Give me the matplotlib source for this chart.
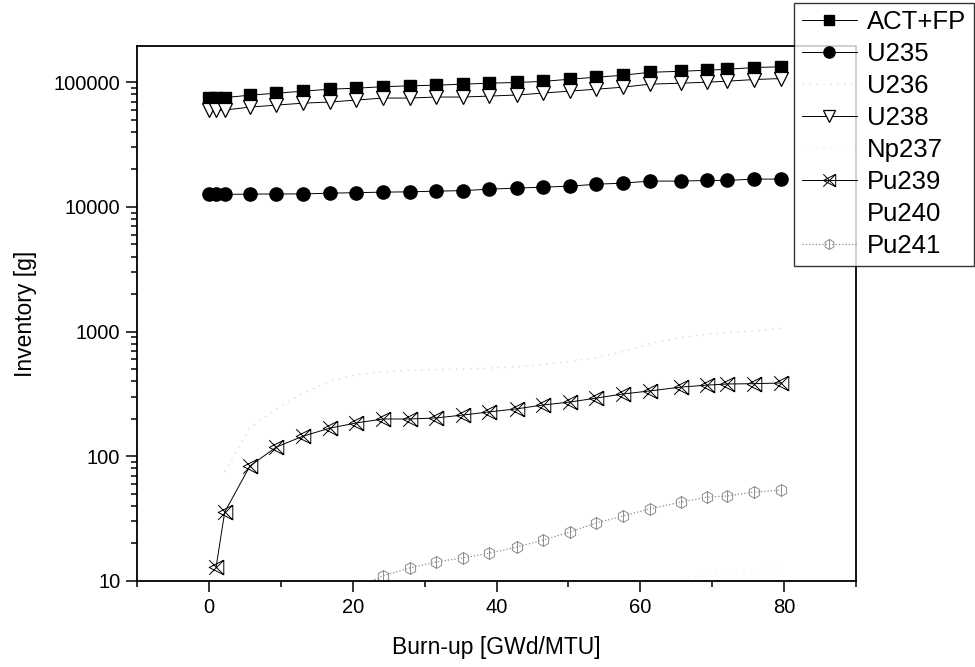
import numpy as np
import matplotlib
matplotlib.use('Agg')
import matplotlib.pyplot as plt
from matplotlib.path import Path
from matplotlib.ticker import FuncFormatter, LogLocator

plt.rcParams['font.family'] = ['Liberation Sans', 'DejaVu Sans']

nan = np.nan
burnup = [0, 1.0, 2.2, 5.7, 9.4, 13.1, 16.8, 20.5, 24.2, 27.9, 31.6, 35.3,
          39.0, 42.8, 46.5, 50.2, 53.9, 57.6, 61.3, 65.7, 69.3, 72.1, 75.8, 79.6]

act_fp = [74500, 74800, 75200, 78700, 81600, 84700, 87900, 89500, 92000, 93500,
          94600, 96400, 98200, 99500, 101500, 105700, 109600, 113700, 120000,
          122400, 124700, 127000, 131000, 133000]
u235 = [12650, 12600, 12600, 12650, 12700, 12700, 12880, 13000, 13130, 13200,
        13370, 13500, 13870, 14140, 14400, 14660, 15200, 15500, 16100, 16100,
        16300, 16300, 16700, 16700]
u236 = [nan, nan, 75, 170, 240, 320, 400, 450, 475, 490, 495, 500, 510, 520,
        545, 575, 620, 690, 800, 900, 950, 980, 1010, 1060]
u238 = [59700, 59500, 59800, 63100, 65500, 67900, 69300, 71900, 74600, 74600,
        76000, 76000, 77400, 78900, 81800, 84800, 87900, 91200, 96400, 98200,
        100000, 101900, 105000, 107000]
np237 = [nan, nan, nan, nan, nan, nan, nan, nan, nan, nan, nan, nan, nan, nan,
         nan, nan, nan, nan, nan, 10.3, 11.2, 11.8, 12.4, 12.9]
pu239 = [nan, 12.9, 35.7, 83.5, 118.7, 145, 168, 185, 199, 199, 203, 214, 227,
         240, 258, 272, 293, 316, 334, 359, 372, 380, 382, 387]
pu240 = [nan] * len(burnup)
pu241 = [nan, nan, nan, nan, nan, nan, nan, 8.8, 11.0, 12.7, 14.2, 15.3, 16.7,
         18.7, 21.3, 24.7, 29.2, 33.2, 37.8, 43.0, 47.1, 48.0, 51.6, 53.6]

# custom Origin-like symbols
M, L = Path.MOVETO, Path.LINETO
xtri = Path([(-1, -1), (1, 1), (-1, 1), (1, -1), (1, 1), (-1, 0), (1, -1), (1, 1)],
            [M, L, M, L, M, L, L, L])
ang = np.deg2rad([90, 150, 210, 270, 330, 30, 90])
hexv = list(zip(np.cos(ang), np.sin(ang))) + [(0, 1), (0, -1)]
hexbar = Path(hexv, [M] + [L] * 6 + [M, L])

fig = plt.figure(figsize=(9.75, 6.67), dpi=100)
ax = fig.add_axes([0.1405, 0.129, 0.7375, 0.802])

ax.plot(burnup, act_fp, '-', color='black', lw=0.7, marker='s', ms=8.5,
        label='ACT+FP')
ax.plot(burnup, u235, '-', color='black', lw=0.7, marker='o', ms=9.5,
        label='U235')
ax.plot(burnup, u236, color='#d8d8d8', lw=1.0, ls=(0, (1, 4)), label='U236')
ax.plot(burnup, u238, '-', color='black', lw=0.7, marker='v', ms=10,
        mfc='white', mew=0.9, label='U238')
ax.plot(burnup, np237, color='#f0f0f0', lw=1.0, ls=(0, (1, 4)), label='Np237')
ax.plot(burnup, pu239, '-', color='black', lw=0.7, marker=xtri, ms=10.5,
        mfc='none', mew=0.7, label='Pu239')
ax.plot(burnup, pu240, ':', color='white', lw=1.0, label='Pu240')
ax.plot(burnup, pu241, ':', color='#8c8c8c', lw=0.9, marker=hexbar, ms=8.5,
        mfc='none', mew=0.7, label='Pu241')

ax.set_yscale('log')
ax.set_xlim(-10, 90)
ax.set_ylim(10, 1.95e5)
ax.set_xticks([0, 20, 40, 60, 80])
ax.set_xticks([-10, 10, 30, 50, 70, 90], minor=True)
ax.yaxis.set_major_locator(LogLocator(base=10, numticks=10))
ax.yaxis.set_minor_locator(LogLocator(base=10, subs=np.arange(2, 10), numticks=20))
ax.yaxis.set_major_formatter(FuncFormatter(lambda v, p: f'{v:g}'))
ax.yaxis.set_minor_formatter(FuncFormatter(lambda v, p: ''))
ax.tick_params(which='both', direction='out', top=False, right=False,
               labelsize=14.5, width=1.1)
ax.tick_params(which='major', length=8, pad=4)
ax.tick_params(which='minor', length=4)
for s in ax.spines.values():
    s.set_linewidth(1.3)

ax.set_xlabel('Burn-up [GWd/MTU]', fontsize=16.5, labelpad=14)
ax.set_ylabel('Inventory [g]', fontsize=16.5, labelpad=12)

leg = fig.legend(loc='upper right', bbox_to_anchor=(0.999, 0.996),
                 fontsize=18.5, frameon=True, fancybox=False, edgecolor='black',
                 handlelength=2.15, handletextpad=0.4, labelspacing=0.31,
                 borderpad=0.3, borderaxespad=0, markerscale=0.85)
leg.get_frame().set_linewidth(1.0)

fig.savefig('out.png', dpi=100)
